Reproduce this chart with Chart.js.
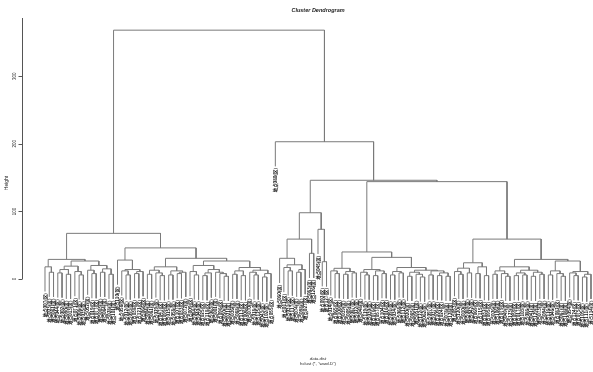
<!DOCTYPE html>
<html>
<head>
<meta charset="utf-8">
<script src="https://cdn.jsdelivr.net/npm/chart.js@4.4.1/dist/chart.umd.min.js"></script>
<style>
  html, body { margin: 0; padding: 0; background: #fff; }
</style>
</head>
<body>
<canvas id="dendro" width="593" height="372"></canvas>
<script>
// leaf = observation id, node = [left, right, merge height]
const clusterA1 = [
  [7, [23, 61, 10], 18],
  [
    [[[44, 2, 9], [90, 13, 7], 14], [71, [8, 35, 6], 11], 19],
    [[52, [19, 77, 8], 13], [[3, 64, 10], [28, 101, 7], 15], 20],
    26.6
  ],
  29
];

const clusterA2 = [
  [110, [[56, [12, 93, 6], 12], [[38, 121, 8], 66, 11], 14], 28],
  [
    [[[4, 81, 7], [29, [47, 99, 5], 9], 13], [[15, 58, 6], [[107, 33, 8], 72, 10], 12], 18],
    [
      [[9, [84, 40, 6], 11], [[[25, 118, 5], 63, 9], [1, [96, [50, 21, 4], 8], 10], 14], 20],
      [[[36, 88, 7], [113, 6, 5], 12], [[70, [18, 125, 6], 10], [[43, 102, 3], 55, 8], 13], 17],
      26.6
    ],
    30.6
  ],
  46
];

const outlier = 80;

const clusterM = [
  [[60, [[11, [31, 117, 12], 17], [[74, 98, 10], 27, 14], 21], 30.6], [83, 126, 38], 59],
  [45, [92, 127, 25.6], 73.5],
  98
];

const clusterC = [
  [[14, [65, 100, 8], 12], [[39, 5, 7], [87, 22, 9], 11], 15.8],
  [
    [[48, [119, 30, 6], 10], [[76, 57, 5], [104, 16, 8], 12], 14],
    [
      [[91, 34, 6], [68, 112, 9], 11],
      [[[20, 85, 4], [51, [122, 62, 3], 7], 10], [[97, 37, 6], [[109, 24, 5], [78, 128, 4], 9], 12], 13],
      17
    ],
    32
  ],
  40
];

const clusterD = [
  [[[53, [120, 10, 7], 11], [89, 42, 9], 16], [[69, 115, 8], [32, 95, 5], 18], 24],
  [
    [[[26, 106, 7], [79, [49, 123, 4], 8], 12], [[[59, 17, 5], [103, 86, 6], 9], [[41, 129, 4], [73, 94, 7], 10], 13], 18],
    [[[116, 46, 6], [82, [67, 108, 4], 8], 12], [[54, [124, 75, 5], 9], [[105, 111, 3], 114, 7], 11], 26.6],
    29
  ],
  59
];

const rootHeights = { rc: 144, mr: 146, outlierJoin: 203, top: 368 };
const tree = [
  [clusterA1, clusterA2, 67.5],
  [outlier, [clusterM, [clusterC, clusterD, rootHeights.rc], rootHeights.mr], rootHeights.outlierJoin],
  rootHeights.top
];

const tickValues = [0, 100, 200, 300];
const hang = 0.1;

// lay out the tree: leaves at 0..n-1, nodes at midpoint of children
let leafCount = 0;
const heights = [];
function place(node) {
  if (!Array.isArray(node)) return { x: leafCount++, id: node };
  const l = place(node[0]), r = place(node[1]);
  heights.push(node[2]);
  return { x: (l.x + r.x) / 2, h: node[2], l, r };
}
const layout = place(tree);
const hangH = hang * (Math.max(...heights) - Math.min(...heights));

const segPoints = [];
const leafEnds = [];
function walk(node) {
  if (node.h === undefined) return;
  const bottom = c => {
    if (c.h !== undefined) return c.h;
    const e = node.h - hangH;
    leafEnds.push({ x: c.x, y: e, label: '地点' + String(c.id).padStart(3, '0') + '(区)' });
    return e;
  };
  const lb = bottom(node.l), rb = bottom(node.r);
  segPoints.push({ x: node.l.x, y: lb }, { x: node.l.x, y: node.h },
                 { x: node.r.x, y: node.h }, { x: node.r.x, y: rb }, { x: node.r.x, y: null });
  walk(node.l);
  walk(node.r);
}
walk(layout);

const decor = {
  id: 'decor',
  afterDraw(chart) {
    const ctx = chart.ctx, xs = chart.scales.x, ys = chart.scales.y;
    const ax = Math.round(chart.chartArea.left) + 0.5;
    ctx.save();
    // y axis
    ctx.strokeStyle = '#555';
    ctx.lineWidth = 1;
    ctx.beginPath();
    ctx.moveTo(ax, ys.getPixelForValue(ys.max));
    ctx.lineTo(ax, ys.getPixelForValue(0));
    tickValues.forEach(v => {
      const y = Math.round(ys.getPixelForValue(v)) + 0.5;
      ctx.moveTo(ax, y);
      ctx.lineTo(ax - 4, y);
    });
    ctx.stroke();

    ctx.fillStyle = '#222';
    ctx.textAlign = 'center';
    ctx.textBaseline = 'middle';
    ctx.font = '4.5px "Liberation Sans"';
    tickValues.forEach(v => {
      ctx.save();
      ctx.translate(ax - 8, ys.getPixelForValue(v));
      ctx.rotate(-Math.PI / 2);
      ctx.fillText(String(v), 0, 0);
      ctx.restore();
    });

    ctx.font = '5px "Liberation Sans"';
    ctx.save();
    ctx.translate(7, 183);
    ctx.rotate(-Math.PI / 2);
    ctx.fillText('Height', 0, 0);
    ctx.restore();

    // leaf labels
    ctx.fillStyle = '#111';
    ctx.font = 'bold 4.4px "Noto Sans CJK SC"';
    ctx.textAlign = 'right';
    leafEnds.forEach(l => {
      ctx.save();
      ctx.translate(xs.getPixelForValue(l.x), ys.getPixelForValue(l.y) + 1.5);
      ctx.rotate(-Math.PI / 2);
      ctx.fillText(l.label, 0, 0);
      ctx.restore();
    });

    // titles
    ctx.fillStyle = '#222';
    const cx = xs.getPixelForValue((leafCount - 1) / 2);
    ctx.textAlign = 'center';
    ctx.font = 'italic bold 5.5px "Liberation Sans"';
    ctx.fillText('Cluster Dendrogram', cx, 10);
    ctx.font = 'italic 4.3px "Liberation Sans"';
    ctx.fillText('data.dist', cx, 358.5);
    ctx.font = '4.3px "Liberation Sans"';
    ctx.fillText('hclust (*, "ward.D")', cx, 363.5);
    ctx.restore();
  }
};

new Chart(document.getElementById('dendro').getContext('2d'), {
  type: 'scatter',
  data: {
    datasets: [{
      data: segPoints,
      showLine: true,
      spanGaps: false,
      borderColor: '#7a7a7a',
      borderWidth: 1,
      pointRadius: 0,
      clip: false
    }]
  },
  options: {
    responsive: false,
    animation: false,
    layout: { padding: { left: 22, right: 0, top: 18, bottom: 93 } },
    plugins: { legend: { display: false }, tooltip: { enabled: false } },
    scales: {
      x: { type: 'linear', display: false, min: -5.39, max: 128.47 },
      y: { type: 'linear', display: false, min: 0, max: 386 }
    }
  },
  plugins: [decor]
});
</script>
</body>
</html>
